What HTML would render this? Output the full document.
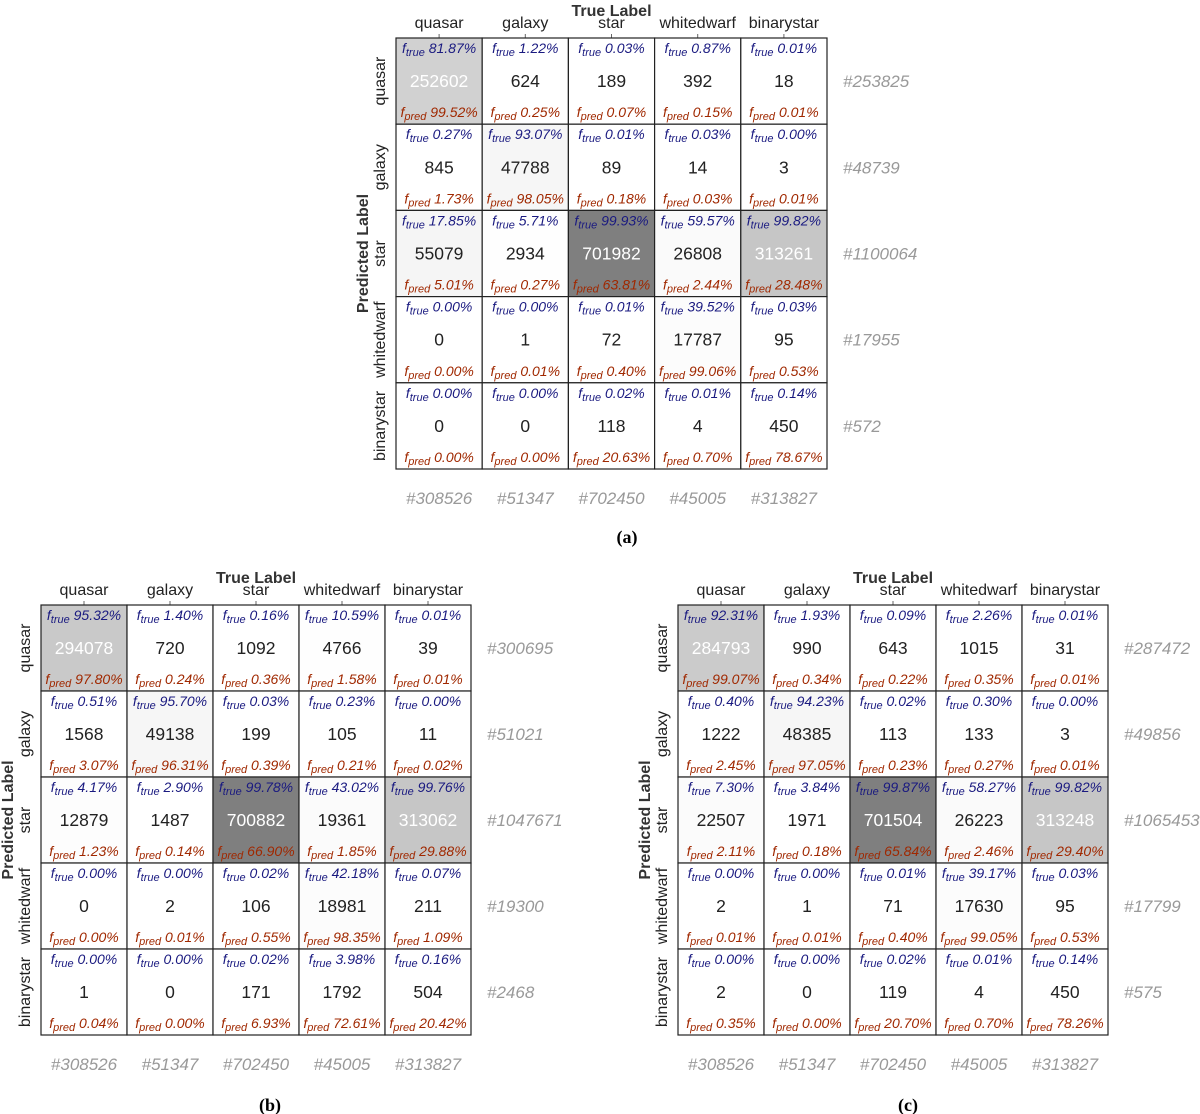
<!DOCTYPE html>
<html><head><meta charset="utf-8">
<style>
body{margin:0;background:#fff;width:1200px;height:1114px;overflow:hidden;position:relative;font-family:"Liberation Sans",Arial,sans-serif}
svg{position:absolute;left:0;top:0}
</style></head><body>
<svg id="fig" width="1200" height="1114" xmlns="http://www.w3.org/2000/svg"></svg>
<script>
const classes=["quasar","galaxy","star","whitedwarf","binarystar"];
// rows = predicted, cols = true
const countsA=[[252602,624,189,392,18],[845,47788,89,14,3],[55079,2934,701982,26808,313261],[0,1,72,17787,95],[0,0,118,4,450]];
const countsB=[[294078,720,1092,4766,39],[1568,49138,199,105,11],[12879,1487,700882,19361,313062],[0,2,106,18981,211],[1,0,171,1792,504]];
const countsC=[[284793,990,643,1015,31],[1222,48385,113,133,3],[22507,1971,701504,26223,313248],[2,1,71,17630,95],[2,0,119,4,450]];
const panelLabels=["(a)","(b)","(c)"];
const NS="http://www.w3.org/2000/svg";
const svg=document.getElementById('fig');
function mk(tag,attrs,parent){const e=document.createElementNS(NS,tag);for(const k in attrs)e.setAttribute(k,attrs[k]);(parent||svg).appendChild(e);return e;}
function fmt(v){return (v*100).toFixed(2)+"%";}
function drawPanel(counts,x0,y0,cw,ch,name,label,lx,ly){
  const g=mk('g',{});
  
  
  const n=classes.length;
  const colT=classes.map((_,j)=>counts.reduce((s,r)=>s+r[j],0));
  const rowT=counts.map(r=>r.reduce((s,v)=>s+v,0));
  let mx=0;counts.forEach(r=>r.forEach(v=>{if(v>mx)mx=v;}));
  const W=cw*n,H=ch*n;
  const t=mk('text',{x:x0+W/2,y:y0-22,'text-anchor':'middle','font-size':16,'font-weight':'bold',fill:'#333'},g);
  t.textContent="True Label";
  
  const yl=mk('text',{transform:`translate(${x0-28},${y0+H/2}) rotate(-90)`,'text-anchor':'middle','font-size':16,'font-weight':'bold',fill:'#333'},g);
  yl.textContent="Predicted Label";
  
  for(let j=0;j<n;j++){
    const cx=x0+cw*(j+0.5);
    const tl=mk('text',{x:cx,y:y0-10,'text-anchor':'middle','font-size':16,fill:'#222'},g);
    tl.textContent=classes[j];
    
    mk('line',{x1:cx,x2:cx,y1:y0-4,y2:y0,stroke:'#666','stroke-width':1},g);
    const ct=mk('text',{x:cx,y:y0+H+35,'text-anchor':'middle','font-size':17,'font-style':'italic',fill:'#999'},g);
    ct.textContent="#"+colT[j];
    
  }
  for(let i=0;i<n;i++){
    const cy=y0+ch*(i+0.5);
    const rl=mk('text',{transform:`translate(${x0-11},${cy}) rotate(-90)`,'text-anchor':'middle','font-size':16,fill:'#222'},g);
    rl.textContent=classes[i];
    
    const rt=mk('text',{x:x0+W+16,y:cy+6,'font-size':17,'font-style':'italic',fill:'#999'},g);
    rt.textContent="#"+rowT[i];
    
    for(let j=0;j<n;j++){
      const v=counts[i][j],fr=v/mx;
      const c=Math.round(255-128*fr);
      const x=x0+cw*j,y=y0+ch*i;
      const r=mk('rect',{x:x,y:y,width:cw,height:ch,fill:`rgb(${c},${c},${c})`,stroke:'#222','stroke-width':1.2},g);
      
      const num=mk('text',{x:x+cw/2,y:y+ch/2+6,'text-anchor':'middle','font-size':17.5,fill:fr>0.3?'#fff':'#222'},g);
      num.textContent=v;
      
      const ft=mk('text',{x:x+cw/2,y:y+15,'text-anchor':'middle','font-size':14,'font-style':'italic',fill:'#1a1a80'},g);
      ft.innerHTML=`f<tspan font-size="11" dy="3">true</tspan><tspan dy="-3"> ${fmt(colT[j]?v/colT[j]:0)}</tspan>`;
      
      const fp=mk('text',{x:x+cw/2,y:y+ch-7,'text-anchor':'middle','font-size':14,'font-style':'italic',fill:'#a02800'},g);
      fp.innerHTML=`f<tspan font-size="11" dy="3">pred</tspan><tspan dy="-3"> ${fmt(rowT[i]?v/rowT[i]:0)}</tspan>`;
      
    }
  }
  const pl=mk('text',{x:lx,y:ly,'text-anchor':'middle','font-size':18,'font-weight':'bold','font-family':'Liberation Serif,serif',fill:'#000'},g);
  pl.textContent=label;
  
}
drawPanel(countsA,396,38,86.2,86.2,'matrix-panel-a',panelLabels[0],627,543);
drawPanel(countsB,41,605,86,86,'matrix-panel-b',panelLabels[1],270,1111);
drawPanel(countsC,678,605,86,86,'matrix-panel-c',panelLabels[2],908,1111);
</script>
</body></html>
